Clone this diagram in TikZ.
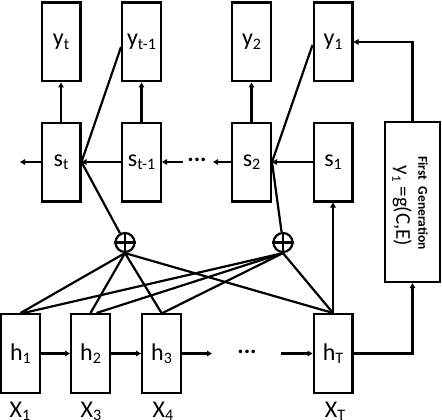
\documentclass[tikz,border=0pt]{standalone}
\usepackage{fontspec}
\setmainfont{Carlito}
\usetikzlibrary{arrows.meta,calc}
\newcommand\sub[1]{\raisebox{-3.5pt}{\fontsize{16}{16}\selectfont #1}}
\newcommand\ssub[1]{\raisebox{-4pt}{\fontsize{13}{13}\selectfont #1}}
\begin{document}
\begin{tikzpicture}[x=1pt,y=-1pt,
  box/.style={draw, line width=2.2pt, minimum width=38.8pt, minimum height=78.8pt, inner sep=0pt, font=\fontsize{24}{24}\selectfont},
  conn/.style={line width=2.2pt},
  arr/.style={line width=2.2pt, -{Triangle[length=5pt,width=5.5pt]}},
  lbl/.style={font=\fontsize{24}{24}\selectfont, inner sep=0pt, anchor=base},
  dotsn/.style={font=\bfseries\fontsize{24}{24}\selectfont, inner sep=0pt},
  plus/.style={circle, draw, line width=2.2pt, minimum size=19pt, inner sep=0pt}]
\useasboundingbox (0,0) rectangle (442,420);
% top row
\node[box] (yt) at (61,42) {y\sub{t}};
\node[box] (yt1) at (141.5,42) {y\sub{t-1}};
\node[box] (y2) at (251.5,42) {y\sub{2}};
\node[box] (y1) at (333,42) {y\sub{1}};
% s row
\node[box] (st) at (61,162) {s\sub{t}};
\node[box] (st1) at (141.5,162) {s\sub{t-1}};
\node[box] (s2) at (251.5,162) {s\sub{2}};
\node[box] (s1) at (333,162) {s\sub{1}};
% h row
\node[box] (h1) at (20.5,353.5) {h\sub{1}};
\node[box] (h2) at (90.5,353.5) {h\sub{2}};
\node[box] (h3) at (161.5,353.5) {h\sub{3}};
\node[box] (hT) at (333,353.5) {h\sub{T}};
% x labels
\node[lbl] (x1) at (20,417) {X\sub{1}};
\node[lbl] (x3) at (91,417) {X\sub{3}};
\node[lbl] (x4) at (163,417) {X\sub{4}};
\node[lbl] (xT) at (335,417) {X\sub{T}};
% generation box
\node[draw, line width=2.2pt, minimum width=55pt, minimum height=160pt, inner sep=0pt] (gen) at (412.5,202) {};
\node[rotate=-90, font=\bfseries\fontsize{13.5}{13.5}\selectfont, inner sep=0pt] (g1) at (423,203) {First\ \ Generation};
\node[rotate=-90, font=\fontsize{21}{21}\selectfont, inner sep=0pt] (g2) at (402,206) {y\ssub{1} =g(C,E)};
% plus circles
\node[plus] (p1) at (125,242.5) {};
\node[plus] (p2) at (283,242.5) {};
\draw[conn] (p1.north) -- (p1.south);
\draw[conn] (p1.west) -- (p1.east);
\draw[conn] (p2.north) -- (p2.south);
\draw[conn] (p2.west) -- (p2.east);
% coordinates
\coordinate (sl) at (20,162);
\coordinate (sa) at (183,162);
\coordinate (sb) at (213,162);
\coordinate (ha) at (212,353.5);
\coordinate (hb) at (281,353.5);
\node[dotsn] (sd) at (197,160) {...};
\node[dotsn] (hd) at (247,351.5) {...};
% vertical arrows
\draw[arr] (st.north) -- (yt.south);
\draw[arr] (st1.north) -- (yt1.south);
\draw[arr] (s2.north) -- (y2.south);
\draw[arr] (hT.north) -- (s1.south);
% s row horizontal
\draw[arr] (st.west) -- (sl);
\draw[arr] (st1.west) -- (st.east);
\draw[arr] (sa) -- (st1.east);
\draw[arr] (s2.west) -- (sb);
\draw[arr] (s1.west) -- (s2.east);
% h row horizontal
\draw[arr] (h1.east) -- (h2.west);
\draw[arr] (h2.east) -- (h3.west);
\draw[arr] (h3.east) -- (ha);
\draw[arr] (hb) -- (hT.west);
% attention lines
\draw[conn] (st.east) -- ([yshift=-5pt]yt1.west);
\draw[conn] (st.east) -- (p1);
\draw[conn] (s2.east) -- ([yshift=-3pt]y1.west);
\draw[conn] (s2.east) -- (p2);
\draw[conn] (p1.south) -- (h1.north);
\draw[conn] (p1.south) -- (h2.north);
\draw[conn] (p1.south) -- (h3.north);
\draw[conn] (p1.south) -- (hT.north);
\draw[conn] (p2.south) -- ([xshift=3pt]h1.north);
\draw[conn] (p2.south) -- ([xshift=6pt]h2.north);
\draw[conn] (p2.south) -- ([xshift=1pt]h3.north);
\draw[conn] (p2.south) -- (hT.north);
% generation connections
\draw[arr] (hT.east) -| (gen.south);
\draw[arr] (gen.north) |- (y1.east);
\end{tikzpicture}
\end{document}
